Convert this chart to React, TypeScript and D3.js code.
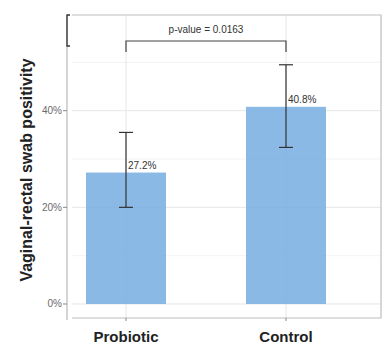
import React, { useEffect, useRef } from 'react'
import * as d3 from 'd3'

const groups = ['Probiotic', 'Control']
const rates = [0.272, 0.408]
const lower = [0.20, 0.324]
const upper = [0.355, 0.495]
const yTicks = [0, 0.2, 0.4]
const yMinor = [0.1, 0.3, 0.5]
const pLabel = 'p-value = 0.0163'

export default function App() {
  const ref = useRef<SVGSVGElement>(null)

  useEffect(() => {
    const svg = d3.select(ref.current)
    svg.selectAll('*').remove()

    const left = 72, right = 381, top = 15, bottom = 318

    const x = d3.scalePoint<string>().domain(groups).range([126, 286])
    const y = d3.scaleLinear().domain([-0.029, 0.598]).range([bottom, top])

    // grid
    const grid = svg.append('g')
    grid.selectAll('line.minor').data(yMinor).enter().append('line')
      .attr('x1', left).attr('x2', right)
      .attr('y1', d => y(d)).attr('y2', d => y(d))
      .attr('stroke', '#f0f0f0').attr('stroke-width', 0.8)
    grid.selectAll('line.major').data(yTicks).enter().append('line')
      .attr('x1', left).attr('x2', right)
      .attr('y1', d => y(d)).attr('y2', d => y(d))
      .attr('stroke', '#e6e6e6').attr('stroke-width', 1)
    grid.selectAll('line.vert').data(groups).enter().append('line')
      .attr('x1', d => x(d)!).attr('x2', d => x(d)!)
      .attr('y1', top).attr('y2', bottom)
      .attr('stroke', '#e6e6e6').attr('stroke-width', 1)

    // bars
    const bw = 80
    svg.append('g').selectAll('rect').data(groups).enter().append('rect')
      .attr('x', d => x(d)! - bw / 2)
      .attr('width', bw)
      .attr('y', (d, i) => y(rates[i]))
      .attr('height', (d, i) => y(0) - y(rates[i]))
      .attr('fill', '#76ade2').attr('fill-opacity', 0.85)

    // error bars
    const eb = svg.append('g').attr('stroke', '#333').attr('stroke-width', 1.2)
    groups.forEach((g, i) => {
      const cx = x(g)!
      eb.append('line').attr('x1', cx).attr('x2', cx).attr('y1', y(lower[i])).attr('y2', y(upper[i]))
      eb.append('line').attr('x1', cx - 7).attr('x2', cx + 7).attr('y1', y(lower[i])).attr('y2', y(lower[i]))
      eb.append('line').attr('x1', cx - 7).attr('x2', cx + 7).attr('y1', y(upper[i])).attr('y2', y(upper[i]))
    })

    // value labels
    svg.append('g').selectAll('text').data(groups).enter().append('text')
      .attr('x', d => x(d)! + 2)
      .attr('y', (d, i) => y(rates[i]) - 4)
      .attr('font-family', 'Liberation Sans, Arial, sans-serif')
      .attr('font-size', 10).attr('fill', '#333')
      .text((d, i) => d3.format('.1%')(rates[i]))

    // p-value bracket
    const x0 = x(groups[0])!, x1 = x(groups[1])!
    svg.append('path')
      .attr('d', `M${x0},52V41H${x1}V52`)
      .attr('fill', 'none').attr('stroke', '#444').attr('stroke-width', 1.2)
    svg.append('text')
      .attr('x', (x0 + x1) / 2).attr('y', 33)
      .attr('text-anchor', 'middle')
      .attr('font-family', 'Liberation Sans, Arial, sans-serif')
      .attr('font-size', 10).attr('fill', '#333')
      .text(pLabel)

    // panel border
    svg.append('path')
      .attr('d', `M${left},${top}H${right}V${bottom}H${left}`)
      .attr('fill', 'none').attr('stroke', '#bdbdbd').attr('stroke-width', 1.2)

    // left axis line + top bracket
    svg.append('line').attr('x1', 67).attr('x2', 67).attr('y1', top).attr('y2', bottom + 2)
      .attr('stroke', '#aaa').attr('stroke-width', 1)
    svg.append('path').attr('d', `M70,${top}H67V46H70`)
      .attr('fill', 'none').attr('stroke', '#333').attr('stroke-width', 1.3)

    // y axis ticks
    const ya = svg.append('g')
    ya.selectAll('line').data(yTicks).enter().append('line')
      .attr('x1', 63).attr('x2', 67)
      .attr('y1', d => y(d)).attr('y2', d => y(d))
      .attr('stroke', '#888')
    ya.selectAll('text').data(yTicks).enter().append('text')
      .attr('x', 62).attr('y', d => y(d) + 3.5)
      .attr('text-anchor', 'end')
      .attr('font-family', 'Liberation Sans, Arial, sans-serif')
      .attr('font-size', 10).attr('fill', '#6b6b6b')
      .text(d => d3.format('.0%')(d))

    // x axis ticks and labels
    const xa = svg.append('g')
    xa.selectAll('line').data(groups).enter().append('line')
      .attr('x1', d => x(d)!).attr('x2', d => x(d)!)
      .attr('y1', bottom).attr('y2', bottom + 3)
      .attr('stroke', '#888')
    xa.selectAll('text').data(groups).enter().append('text')
      .attr('x', d => x(d)!).attr('y', 342)
      .attr('text-anchor', 'middle')
      .attr('font-family', 'Liberation Sans, Arial, sans-serif')
      .attr('font-weight', 'bold').attr('font-size', 15).attr('fill', '#222')
      .text(d => d)

    // y title
    svg.append('text')
      .attr('transform', 'translate(32,170) rotate(-90)')
      .attr('text-anchor', 'middle')
      .attr('font-family', 'Liberation Sans, Arial, sans-serif')
      .attr('font-weight', 'bold').attr('font-size', 16).attr('fill', '#222')
      .text('Vaginal-rectal swab positivity')
  }, [])

  return (
    <svg ref={ref} width={388} height={349}
      style={{ position: 'absolute', left: 0, top: 0, background: '#fff' }} />
  )
}
